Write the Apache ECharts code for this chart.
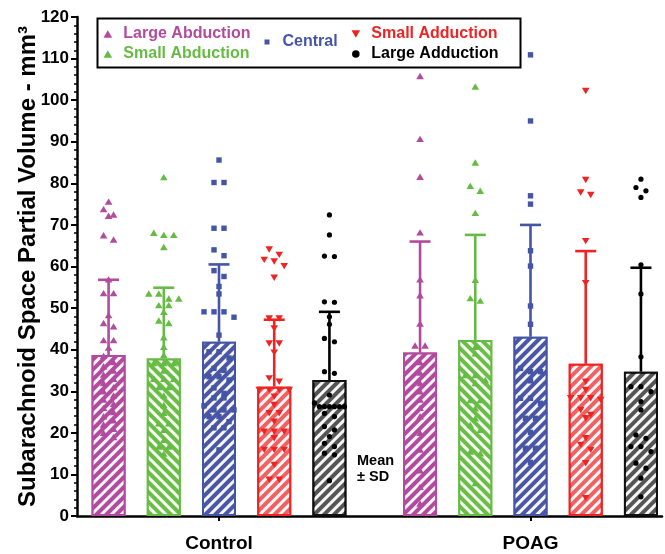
<!DOCTYPE html>
<html>
<head>
<meta charset="utf-8">
<script src="https://cdn.jsdelivr.net/npm/echarts@6/dist/echarts.min.js"></script>
<style>
  html, body { margin: 0; padding: 0; background: #fff; }
  #chart { width: 665px; height: 554px; }
</style>
</head>
<body>
<div id="chart"></div>
<script>
const groups = ['Control', 'POAG']
const seriesNames = ['Large Abduction', 'Small Abduction', 'Central', 'Small Adduction', 'Large Adduction']

// bar heights (mean) and error bar lengths (SD)
const meanControl = [38.7, 37.9, 41.9, 31.1, 32.7]
const meanPOAG = [39.3, 42.3, 43.1, 36.6, 34.7]
const sdControl = [18.1, 17.0, 18.6, 16.1, 16.4]
const sdPOAG = [26.7, 25.3, 26.9, 27.1, 25.0]

// individual eyes
const controlLargeAbduction = [75.6, 73.8, 72.5, 72.2, 67.5, 66.5, 56.9, 53.6, 53.6, 48.3, 46.4, 45.6, 42.3, 42.3, 40.5, 38.5, 37, 36, 35, 34, 33, 32, 31, 30, 29, 28, 27, 26, 25, 24, 23, 22, 21, 20, 19]
const controlSmallAbduction = [81.5, 68.1, 67.6, 67.6, 64.7, 53.5, 53.5, 52.3, 52.3, 50.7, 50.7, 49.1, 47.0, 46.4, 43.0, 40.7, 38.7, 36.8, 36.8, 36.8, 35.0, 33.0, 33.0, 33.0, 31.0, 31.0, 29.0, 26.7, 24.8, 22.3, 22.3, 20.7, 18.3, 16.7, 16.7, 15.0]
const controlCentral = [85.6, 80.2, 80.2, 69.2, 69.2, 64.0, 62.6, 59.0, 57.6, 55.2, 53.4, 49.1, 49.1, 49.1, 47.8, 43.5, 39.5, 39.5, 38.0, 35.5, 35.0, 33.5, 33.5, 32.7, 30.8, 29.5, 28.4, 28.4, 26.5, 25.5, 25.5, 25.5, 23.9, 23.9, 22.7, 21.2, 21.2, 15.9]
const controlSmallAdduction = [64.1, 62.8, 61.6, 61.2, 60.1, 57.3, 47.5, 47.5, 45.1, 41.5, 41.5, 39.3, 33.1, 32.3, 30.3, 30.3, 30.3, 30.3, 28.7, 26.7, 24.7, 24.7, 22.7, 20.3, 20.3, 20.3, 18.7, 15.9, 15.9, 15.9, 12.3, 8.7, 8.7]
const controlLargeAdduction = [72.4, 67.6, 62.5, 62.4, 51.5, 51.4, 47.9, 46.1, 42.7, 41.9, 34.7, 34.3, 29.1, 27.2, 26.3, 26.3, 26.3, 26.3, 26.3, 26.3, 24.7, 23.9, 21.5, 20.7, 19.1, 17.5, 16.7, 15.1, 14.7, 8.5]
const poagLargeAbduction = [105.8, 90.7, 81.6, 68.2, 56.9, 53.1, 46.3, 41.0, 41.0, 37.0, 34.5, 32.0, 30.0, 28.0, 26.0, 24.0, 20.0, 16.0, 11.0, 7.0, 3.0]
const poagSmallAbduction = [103.3, 85.0, 79.4, 78.2, 72.9, 56.8, 52.4, 51.8, 40.7, 39.1, 33.9, 33.9, 32.7, 32.0, 27.9, 27.9, 25.9, 23.5, 21.9, 20.7, 15.5, 15.1, 7.9]
const poagCentral = [110.9, 95.0, 77.0, 75.0, 63.8, 60.1, 50.5, 46.1, 35.5, 34.7, 34.7, 32.5, 28.3, 28.3, 27.1, 23.5, 23.5, 20.1, 16.3, 16.3, 12.9]
const poagSmallAdduction = [102.2, 80.8, 77.8, 77.2, 66.1, 56.0, 32.3, 30.3, 28.3, 28.3, 28.3, 27.9, 25.5, 24.3, 23.5, 18.7, 17.1, 15.9, 12.7, 4.3]
const poagLargeAdduction = [81.0, 79.0, 78.2, 76.6, 60.4, 53.4, 38.3, 31.1, 31.1, 29.9, 27.5, 25.5, 19.5, 18.7, 16.7, 16.7, 15.5, 12.7, 11.5, 9.1, 4.6]

const pointsControl = [controlLargeAbduction, controlSmallAbduction, controlCentral, controlSmallAdduction, controlLargeAdduction]
const pointsPOAG = [poagLargeAbduction, poagSmallAbduction, poagCentral, poagSmallAdduction, poagLargeAdduction]

const FONT = '"Liberation Sans", Arial, sans-serif'
const colors = ['#b24a9e', '#66bb44', '#4455a5', '#ee2424', '#000000']
const fills = ['#b24a9e', '#6abd45', '#4a56a6', '#f06262', '#555555']
const borders = ['#b24a9e', '#66bb44', '#4455a5', '#ee2424', '#111111']
const shapes = ['up', 'up', 'square', 'down', 'circle']
const icons = [
  'path://M5,0L10,8.66L0,8.66Z',
  'path://M5,0L10,8.66L0,8.66Z',
  'path://M0,0L10,0L10,10L0,10Z',
  'path://M0,0L10,0L5,8.66Z',
  'circle'
]

const barWidth = 34
const barGapRatio = 0.624
const pitch = barWidth * (1 + barGapRatio)
const shiftOf = (i) => (i - 2) * pitch

// prism-like spread: points of nearly equal value share a row
const swarm = (values) => {
  const sorted = values.slice().sort((a, b) => b - a)
  const rows = []
  sorted.forEach((v) => {
    const row = rows[rows.length - 1]
    if (row && row[0] - v <= 1.5) row.push(v)
    else rows.push([v])
  })
  const out = []
  rows.forEach((row) => {
    const n = row.length
    const step = n > 1 ? Math.min(10, 30 / (n - 1)) : 0
    row.forEach((v, k) => out.push([v, (k - (n - 1) / 2) * step]))
  })
  return out
}

const pointShape = (kind, x, y, color) => {
  if (kind === 'square') {
    return { type: 'rect', shape: { x: x - 2.7, y: y - 2.7, width: 5.4, height: 5.4 }, style: { fill: color } }
  }
  if (kind === 'circle') {
    return { type: 'circle', shape: { cx: x, cy: y, r: 2.6 }, style: { fill: color } }
  }
  const h = 3.2
  const w = 3.8
  const pts = kind === 'up'
    ? [[x, y - h], [x + w, y + h], [x - w, y + h]]
    : [[x, y + h], [x + w, y - h], [x - w, y - h]]
  return { type: 'polygon', shape: { points: pts }, style: { fill: color } }
}

const series = []

seriesNames.forEach((name, i) => {
  series.push({
    name,
    type: 'bar',
    xAxisIndex: 0,
    yAxisIndex: 0,
    barWidth,
    barGap: (barGapRatio * 100) + '%',
    z: 2,
    itemStyle: {
      color: fills[i],
      borderColor: borders[i],
      borderWidth: 2,
      decal: {
        symbol: 'rect',
        symbolSize: 1,
        dashArrayX: [1, 0],
        dashArrayY: [2.5, 3.5],
        rotation: i === 1 ? Math.PI / 4 : -Math.PI / 4,
        color: 'rgba(255,255,255,0.95)'
      }
    },
    data: [meanControl[i], meanPOAG[i]]
  })
})

seriesNames.forEach((name, i) => {
  const shift = shiftOf(i)
  series.push({
    name,
    type: 'custom',
    xAxisIndex: 0,
    yAxisIndex: 0,
    z: 3,
    silent: true,
    encode: { x: 0, y: [1, 2] },
    renderItem: (params, api) => {
      const lo = api.coord([api.value(0), api.value(1)])
      const hi = api.coord([api.value(0), api.value(2)])
      const x = lo[0] + shift
      const style = { stroke: colors[i], lineWidth: 2.6 }
      return {
        type: 'group',
        children: [
          { type: 'line', shape: { x1: x, y1: lo[1], x2: x, y2: hi[1] }, style },
          { type: 'line', shape: { x1: x - 10.5, y1: hi[1], x2: x + 10.5, y2: hi[1] }, style }
        ]
      }
    },
    data: [
      [0, meanControl[i], meanControl[i] + sdControl[i]],
      [1, meanPOAG[i], meanPOAG[i] + sdPOAG[i]]
    ]
  })
})

seriesNames.forEach((name, i) => {
  const shift = shiftOf(i)
  const data = []
  swarm(pointsControl[i]).forEach(([v, off]) => data.push([0, v, off]))
  swarm(pointsPOAG[i]).forEach(([v, off]) => data.push([1, v, off]))
  series.push({
    name,
    type: 'custom',
    xAxisIndex: 0,
    yAxisIndex: 0,
    z: 4,
    silent: true,
    itemStyle: { color: colors[i] },
    encode: { x: 0, y: 1 },
    renderItem: (params, api) => {
      const c = api.coord([api.value(0), api.value(1)])
      return pointShape(shapes[i], c[0] + shift + api.value(2), c[1], colors[i])
    },
    data
  })
})

const legendItem = (i) => ({
  name: seriesNames[i],
  icon: icons[i],
  itemStyle: { color: colors[i], borderWidth: 0, decal: 'none' },
  textStyle: { color: colors[i] }
})

const legendBase = {
  orient: 'vertical',
  selectedMode: false,
  itemWidth: 9,
  itemHeight: 7.5,
  itemGap: 4,
  padding: 0,
  textStyle: { fontFamily: FONT, fontWeight: 'bold', fontSize: 16, padding: [0, 0, 0, 6] }
}

const chart = echarts.init(document.getElementById('chart'))

chart.setOption({
  animation: false,
  textStyle: { fontFamily: FONT },
  grid: [
    { left: 219, right: 134.5, top: 17, bottom: 38 },
    { left: 77, right: 3, top: 17, bottom: 38 }
  ],
  legend: [
    Object.assign({}, legendBase, { left: 103.5, top: 26, data: [legendItem(0), legendItem(1)] }),
    Object.assign({}, legendBase, { left: 264.5, top: 34, itemHeight: 5, data: [legendItem(2)] }),
    Object.assign({}, legendBase, { left: 351.5, top: 26, data: [legendItem(3), legendItem(4)] })
  ],
  xAxis: [
    {
      type: 'category',
      gridIndex: 0,
      data: groups,
      boundaryGap: false,
      axisLine: { show: false },
      axisTick: { show: true, length: 5, lineStyle: { color: '#000', width: 2 } },
      axisLabel: { color: '#000', fontWeight: 'bold', fontSize: 19, margin: 18, fontFamily: FONT },
      splitLine: { show: false }
    },
    {
      type: 'value',
      gridIndex: 1,
      min: 0,
      max: 1,
      axisLine: { show: true, lineStyle: { color: '#000', width: 2.5 } },
      axisTick: { show: false },
      axisLabel: { show: false },
      splitLine: { show: false }
    }
  ],
  yAxis: [
    {
      type: 'value',
      gridIndex: 0,
      min: 0,
      max: 120,
      show: false
    },
    {
      type: 'value',
      gridIndex: 1,
      min: 0,
      max: 120,
      interval: 10,
      name: 'Subarachnoid Space Partial Volume - mm³',
      nameLocation: 'middle',
      nameRotate: 90,
      nameGap: 37,
      nameMoveOverlap: false,
      nameTextStyle: { color: '#000', fontWeight: 'bold', fontSize: 24, fontFamily: FONT },
      axisLine: { show: true, lineStyle: { color: '#000', width: 2.5 } },
      axisTick: { show: true, length: 6, lineStyle: { color: '#000', width: 2 } },
      minorTick: { show: true, splitNumber: 5, length: 3, lineStyle: { color: '#000', width: 1.5 } },
      axisLabel: { color: '#000', fontWeight: 'bold', fontSize: 17, margin: 8, fontFamily: FONT },
      splitLine: { show: false },
      minorSplitLine: { show: false }
    }
  ],
  graphic: [
    {
      type: 'rect',
      left: 95,
      top: 16,
      shape: { width: 423, height: 49 },
      style: { fill: 'none', stroke: '#000', lineWidth: 2 }
    },
    {
      type: 'text',
      left: 357,
      top: 453,
      style: { text: 'Mean\n± SD', font: 'bold 14.5px ' + FONT, fill: '#000', lineHeight: 16 }
    }
  ],
  series
})

window.addEventListener('resize', () => chart.resize())
</script>
</body>
</html>
